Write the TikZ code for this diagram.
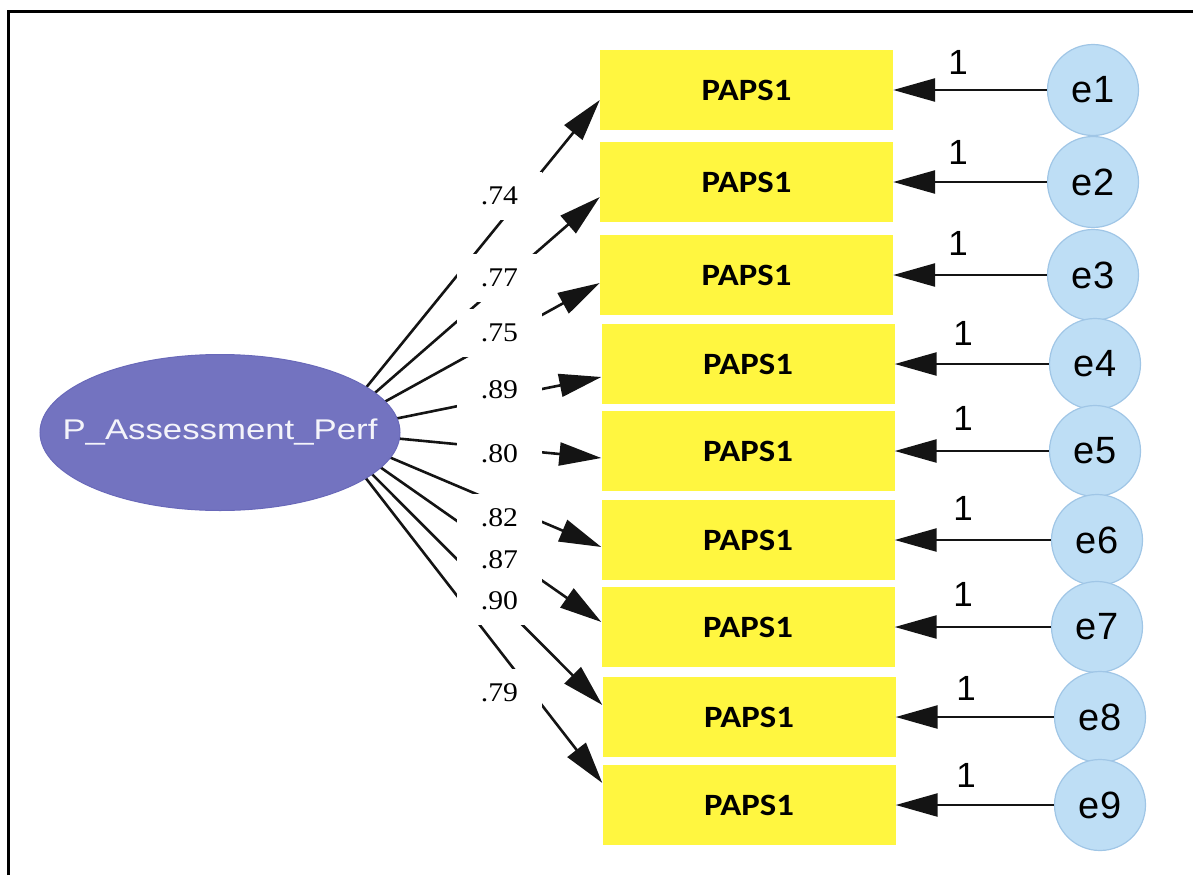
\documentclass[tikz,border=0pt]{standalone}
\usepackage{fontspec}
\usepackage{graphicx}
\setmainfont{Liberation Serif}
\newfontfamily\arialfont{Liberation Sans}
\newfontfamily\calibfont{Carlito}
\usetikzlibrary{arrows.meta,shapes.geometric}

\definecolor{boxyellow}{RGB}{255,246,64}
\definecolor{latentfill}{RGB}{115,115,192}
\definecolor{latentdraw}{RGB}{105,105,185}
\definecolor{errblue}{RGB}{190,222,245}
\definecolor{errborder}{RGB}{160,198,230}
\definecolor{linegray}{RGB}{20,20,20}
\definecolor{latenttext}{RGB}{244,244,250}

\newcommand{\hstretch}[2]{\scalebox{#1}[1]{#2}}

\tikzset{
  obs/.style={fill=boxyellow, minimum width=293pt, minimum height=80pt, inner sep=0pt,
    font=\calibfont\bfseries\fontsize{31}{33}\selectfont},
  err/.style={circle, fill=errblue, draw=errborder, line width=1.2pt, minimum size=91pt, inner sep=0pt,
    font=\arialfont\fontsize{38}{40}\selectfont},
  arr/.style={draw=linegray, line width=2.6pt, -{Triangle[length=42pt,width=23pt]}},
  wlab/.style={fill=white, minimum width=85pt, minimum height=48pt, inner sep=0pt,
    font=\fontsize{27}{29}\selectfont},
  onelab/.style={font=\arialfont\fontsize{35}{37}\selectfont, inner sep=0pt},
  latent/.style={ellipse, fill=latentfill, draw=latentdraw, line width=1pt,
    minimum width=360pt, minimum height=156pt, inner sep=0pt, text=latenttext,
    font=\arialfont\fontsize{28.5}{30}\selectfont},
}

\begin{document}
\begin{tikzpicture}[x=1pt,y=-1pt]
\useasboundingbox (0,0) rectangle (1193,875);
% frame
\draw[line width=3pt] (8,875) -- (8,12) -- (1193,12);

% observed boxes
\node[obs] (b1) at (746.5,90)  {\hstretch{1.12}{PAPS1}};
\node[obs] (b2) at (746.5,182) {\hstretch{1.12}{PAPS1}};
\node[obs] (b3) at (746.5,275) {\hstretch{1.12}{PAPS1}};
\node[obs] (b4) at (748,364)   {\hstretch{1.12}{PAPS1}};
\node[obs] (b5) at (748,451)   {\hstretch{1.12}{PAPS1}};
\node[obs] (b6) at (748,540)   {\hstretch{1.12}{PAPS1}};
\node[obs] (b7) at (748,627)   {\hstretch{1.12}{PAPS1}};
\node[obs] (b8) at (749,717)   {\hstretch{1.12}{PAPS1}};
\node[obs] (b9) at (749,805)   {\hstretch{1.12}{PAPS1}};

% error terms
\node[err] (e1) at (1093,90)  {e1};
\node[err] (e2) at (1093,182) {e2};
\node[err] (e3) at (1093,275) {e3};
\node[err] (e4) at (1095,364) {e4};
\node[err] (e5) at (1095,451) {e5};
\node[err] (e6) at (1097,540) {e6};
\node[err] (e7) at (1097,627) {e7};
\node[err] (e8) at (1100,717) {e8};
\node[err] (e9) at (1100,805) {e9};

% error arrows
\foreach \i in {1,...,9}{
  \draw[arr] (e\i.west) -- (b\i.east |- e\i.west);
}
\node[onelab] (o1) at (958,62)  {1};
\node[onelab] (o2) at (958,152) {1};
\node[onelab] (o3) at (958,243) {1};
\node[onelab] (o4) at (963,333) {1};
\node[onelab] (o5) at (963,418) {1};
\node[onelab] (o6) at (963,508) {1};
\node[onelab] (o7) at (963,594) {1};
\node[onelab] (o8) at (966,688) {1};
\node[onelab] (o9) at (966,775) {1};

% loadings
\coordinate (hub) at (330,432);
\draw[arr] (hub) -- ([yshift=-10pt]b1.west);
\draw[arr] (hub) -- ([yshift=-15pt]b2.west);
\draw[arr] (hub) -- ([yshift=-8pt]b3.west);
\draw[arr] (hub) -- ([yshift=-13pt]b4.west);
\draw[arr] (hub) -- ([yshift=-7pt]b5.west);
\draw[arr] (hub) -- ([yshift=-7pt]b6.west);
\draw[arr] (hub) -- ([yshift=5pt]b7.west);
\draw[arr] (hub) -- ([yshift=12pt]b8.west);
\draw[arr] (hub) -- ([yshift=22pt]b9.west);

% loading labels
\node[wlab] (l1) at (499.5,196) {\hstretch{1.1}{.74}};
\node[wlab] (l2) at (499.5,278) {\hstretch{1.1}{.77}};
\node[wlab] (l3) at (499.5,333) {\hstretch{1.1}{.75}};
\node[wlab] (l4) at (499.5,390) {\hstretch{1.1}{.89}};
\node[wlab] (l5) at (499.5,454) {\hstretch{1.1}{.80}};
\node[wlab] (l6) at (499.5,518) {\hstretch{1.1}{.82}};
\node[wlab] (l7) at (499.5,560) {\hstretch{1.1}{.87}};
\node[wlab] (l8) at (499.5,601) {\hstretch{1.1}{.90}};
\node[wlab] (l9) at (499.5,693) {\hstretch{1.1}{.79}};

% latent variable
\node[latent] (lv) at (220,432.5) {\makebox[0pt]{\hstretch{1.22}{P\_Assessment\_Perf}}};
\end{tikzpicture}
\end{document}
